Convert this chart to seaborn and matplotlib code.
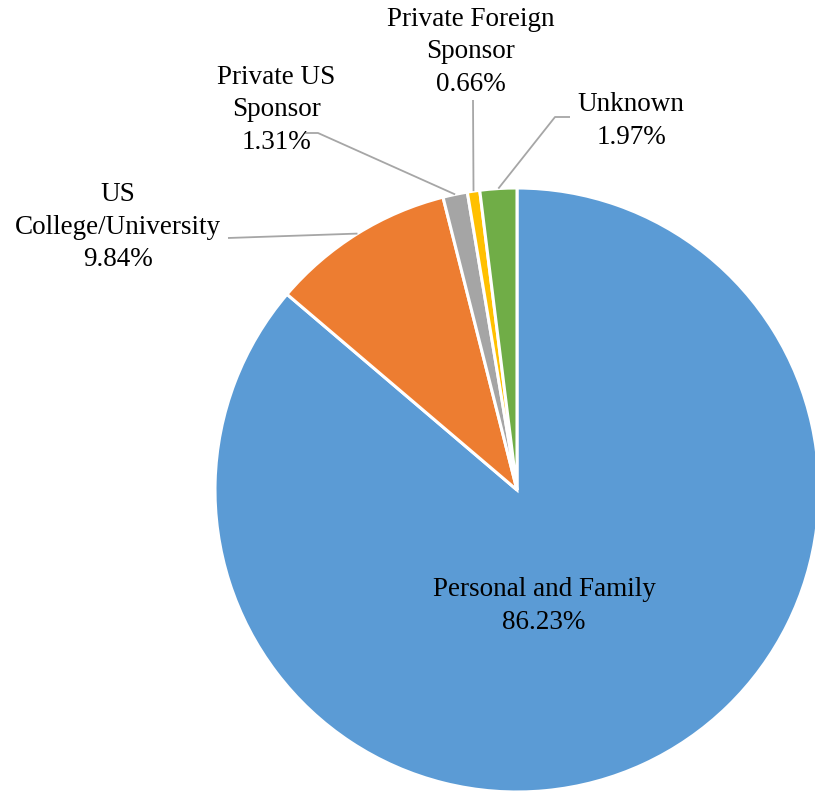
import numpy as np
import matplotlib
matplotlib.use("Agg")
import matplotlib.pyplot as plt
import seaborn as sns

sns.set_style("white")
plt.rcParams['font.family'] = ['Liberation Serif', 'DejaVu Serif']

categories = ["Personal and Family", "US College/University", "Private US Sponsor",
              "Private Foreign Sponsor", "Unknown"]
label_text = ["Personal and Family", "US\nCollege/University", "Private US\nSponsor",
              "Private Foreign\nSponsor", "Unknown"]
shares = [86.23, 9.84, 1.31, 0.66, 1.97]
colors = ["#5B9BD5", "#ED7D31", "#A5A5A5", "#FFC000", "#70AD47"]

W, H = 815, 795
CX, CY, R = 517, 490, 302


def px(x, y):
    # pixel coords (y down) -> axes data coords (y up)
    return x, H - y


fig = plt.figure(figsize=(W / 100, H / 100), dpi=100)
ax = fig.add_axes([0, 0, 1, 1])

wedges, _ = ax.pie(shares, colors=colors, startangle=90, counterclock=False,
                   center=px(CX, CY), radius=R,
                   wedgeprops=dict(edgecolor="white", linewidth=2.2))
ax.set_xlim(0, W)
ax.set_ylim(0, H)
ax.set_aspect("equal")
ax.axis("off")

fs = 19.5
# label block centres and leader line points (pixel coords)
label_pos = [(544, 606), (118, 227), (276, 110), (471, 52), (631, 121)]
leader_pts = [None, [(228, 238)], [(318, 133), (305, 133)], [(473, 100)],
              [(555, 117), (570, 117)]]

for i, w in enumerate(wedges):
    mid = np.deg2rad((w.theta1 + w.theta2) / 2)
    lx, ly = label_pos[i]
    ax.text(*px(lx, ly), f"{label_text[i]}\n{shares[i]:.2f}%", ha="center", va="center",
            fontsize=fs, color="black", linespacing=1.38)
    if leader_pts[i] is not None:
        sx, sy = CX + R * np.cos(mid), CY - R * np.sin(mid)
        pts = [(sx, sy)] + leader_pts[i]
        xs = [p[0] for p in pts]
        ys = [H - p[1] for p in pts]
        ax.plot(xs, ys, color="#A6A6A6", linewidth=1.3, solid_capstyle="butt")

fig.savefig("out.png", dpi=100)
